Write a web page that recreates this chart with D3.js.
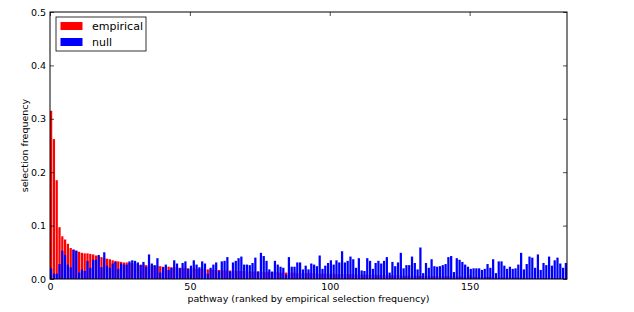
<!DOCTYPE html>
<html>
<head>
<meta charset="utf-8">
<script src="https://cdn.jsdelivr.net/npm/d3@7"></script>
<style>
  body { margin: 0; background: #fff; }
  text { font-family: "DejaVu Sans", sans-serif; }
</style>
</head>
<body>
<svg id="chart" width="634" height="312"></svg>
<script>
// empirical selection frequency, ranked
const empirical = [
  0.315, 0.262, 0.185, 0.097, 0.080, 0.074, 0.066, 0.058, 0.055, 0.053,
  0.051, 0.049, 0.048, 0.048, 0.047, 0.046, 0.044, 0.043, 0.041, 0.039,
  0.038, 0.037, 0.035, 0.034, 0.033, 0.032, 0.031, 0.031, 0.030, 0.029,
  0.028, 0.028, 0.027, 0.027, 0.026, 0.026, 0.025, 0.025, 0.024, 0.024,
  0.023, 0.023, 0.023, 0.022, 0.022, 0.022, 0.021, 0.021, 0.021, 0.020,
  0.020, 0.020, 0.019, 0.019, 0.019, 0.018, 0.018, 0.018, 0.017, 0.017,
  0.017, 0.017, 0.016, 0.016, 0.016, 0.016, 0.015, 0.015, 0.015, 0.015,
  0.015, 0.014, 0.014, 0.014, 0.014, 0.014, 0.013, 0.013, 0.013, 0.013,
  0.013, 0.013, 0.012, 0.012, 0.012, 0.012, 0.012, 0.012, 0.011, 0.011,
  0.011, 0.011, 0.011, 0.011, 0.011, 0.010, 0.010, 0.010, 0.010, 0.010,
  0.010, 0.010, 0.009, 0.009, 0.009, 0.009, 0.009, 0.009, 0.009, 0.008,
  0.008, 0.008, 0.008, 0.008, 0.008, 0.008, 0.008, 0.007, 0.007, 0.007,
  0.007, 0.007, 0.007, 0.007, 0.007, 0.007, 0.006, 0.006, 0.006, 0.006,
  0.006, 0.006, 0.006, 0.006, 0.006, 0.006, 0.005, 0.005, 0.005, 0.005,
  0.005, 0.005, 0.005, 0.005, 0.005, 0.005, 0.005, 0.004, 0.004, 0.004,
  0.004, 0.004, 0.004, 0.004, 0.004, 0.004, 0.004, 0.004, 0.003, 0.003,
  0.003, 0.003, 0.003, 0.003, 0.003, 0.003, 0.003, 0.003, 0.003, 0.003,
  0.002, 0.002, 0.002, 0.002, 0.002, 0.002, 0.002, 0.002, 0.002, 0.002,
  0.002, 0.002, 0.001, 0.001, 0.001
];

// null selection frequency, same ranking
const nullFreq = [
  0.020, 0.010, 0.010, 0.028, 0.053, 0.045, 0.027, 0.022, 0.055, 0.053,
  0.012, 0.018, 0.015, 0.034, 0.021, 0.036, 0.036, 0.045, 0.022, 0.050,
  0.025, 0.021, 0.029, 0.032, 0.019, 0.029, 0.027, 0.027, 0.033, 0.035,
  0.034, 0.031, 0.026, 0.032, 0.023, 0.046, 0.029, 0.026, 0.039, 0.012,
  0.022, 0.027, 0.017, 0.021, 0.035, 0.029, 0.020, 0.030, 0.033, 0.019,
  0.025, 0.035, 0.027, 0.022, 0.033, 0.029, 0.010, 0.021, 0.027, 0.031,
  0.015, 0.033, 0.034, 0.041, 0.014, 0.031, 0.034, 0.039, 0.042, 0.027,
  0.027, 0.026, 0.030, 0.040, 0.014, 0.049, 0.043, 0.034, 0.018, 0.014,
  0.034, 0.027, 0.023, 0.021, 0.008, 0.041, 0.023, 0.023, 0.031, 0.031,
  0.018, 0.025, 0.018, 0.029, 0.027, 0.024, 0.044, 0.019, 0.025, 0.030,
  0.035, 0.027, 0.035, 0.031, 0.052, 0.031, 0.034, 0.042, 0.037, 0.021,
  0.039, 0.016, 0.015, 0.039, 0.034, 0.019, 0.030, 0.034, 0.029, 0.034,
  0.041, 0.012, 0.032, 0.024, 0.031, 0.049, 0.020, 0.026, 0.026, 0.042,
  0.030, 0.018, 0.059, 0.011, 0.030, 0.021, 0.037, 0.024, 0.023, 0.024,
  0.026, 0.028, 0.041, 0.043, 0.013, 0.039, 0.036, 0.032, 0.027, 0.023,
  0.019, 0.020, 0.020, 0.020, 0.017, 0.019, 0.028, 0.021, 0.037, 0.011,
  0.033, 0.033, 0.025, 0.019, 0.023, 0.019, 0.020, 0.027, 0.049, 0.018,
  0.028, 0.042, 0.040, 0.021, 0.046, 0.017, 0.030, 0.026, 0.042, 0.025,
  0.035, 0.040, 0.029, 0.021, 0.030
];

const xTicks = [0, 50, 100, 150];
const yTicks = [0, 0.1, 0.2, 0.3, 0.4, 0.5];
const seriesNames = ['empirical', 'null'];
const seriesColors = ['#ff0000', '#0000ff'];

const margin = {left: 50, right: 67, top: 12, bottom: 33};
const width = 634, height = 312;
const barWidth = 0.8;

const svg = d3.select('svg#chart');

const x = d3.scaleLinear()
  .domain([0, empirical.length - 1 + barWidth])
  .range([margin.left, width - margin.right]);
const y = d3.scaleLinear()
  .domain([0, 0.5])
  .range([height - margin.bottom, margin.top]);

const plot = svg.append('g');

function drawBars(values, color) {
  plot.append('g').selectAll('rect').data(values).enter()
    .append('rect')
    .attr('x', (d, i) => x(i))
    .attr('width', x(barWidth) - x(0))
    .attr('y', (d) => y(d))
    .attr('height', (d) => y(0) - y(d))
    .attr('fill', color);
}

drawBars(empirical, seriesColors[0]);
drawBars(nullFreq, seriesColors[1]);

// axes, ticks pointing inward like old matplotlib
const tickLen = 4;
svg.append('g')
  .attr('transform', `translate(0,${y(0)})`)
  .call(d3.axisBottom(x).tickValues(xTicks).tickSize(-tickLen).tickPadding(4).tickFormat(d3.format('d')))
  .call((g) => g.select('.domain').remove());
svg.append('g')
  .attr('transform', `translate(0,${y(0.5)})`)
  .call(d3.axisTop(x).tickValues(xTicks).tickSize(-tickLen).tickFormat(''))
  .call((g) => g.select('.domain').remove());
svg.append('g')
  .attr('transform', `translate(${x.range()[0]},0)`)
  .call(d3.axisLeft(y).tickValues(yTicks).tickSize(-tickLen).tickPadding(4).tickFormat(d3.format('.1f')))
  .call((g) => g.select('.domain').remove());
svg.append('g')
  .attr('transform', `translate(${x.range()[1]},0)`)
  .call(d3.axisRight(y).tickValues(yTicks).tickSize(-tickLen).tickFormat(''))
  .call((g) => g.select('.domain').remove());

svg.selectAll('.tick text')
  .attr('font-family', '"DejaVu Sans", sans-serif')
  .attr('font-size', 9.5)
  .attr('fill', '#000');
svg.selectAll('.tick line').attr('stroke', '#000').attr('stroke-width', 0.7);

// frame
svg.append('rect')
  .attr('x', x.range()[0])
  .attr('y', y(0.5))
  .attr('width', x.range()[1] - x.range()[0])
  .attr('height', y(0) - y(0.5))
  .attr('fill', 'none')
  .attr('stroke', '#000')
  .attr('stroke-width', 1);

svg.append('text')
  .attr('x', (x.range()[0] + x.range()[1]) / 2)
  .attr('y', 302)
  .attr('text-anchor', 'middle')
  .attr('font-size', 9.5)
  .text('pathway (ranked by empirical selection frequency)');

svg.append('text')
  .attr('transform', `translate(28,${(y(0) + y(0.5)) / 2}) rotate(-90)`)
  .attr('text-anchor', 'middle')
  .attr('font-size', 9.5)
  .text('selection frequency');

// legend
const legend = svg.append('g').attr('transform', 'translate(56,17)');
legend.append('rect')
  .attr('width', 90).attr('height', 34)
  .attr('fill', '#fff').attr('stroke', '#000').attr('stroke-width', 0.8);
seriesNames.forEach((name, i) => {
  legend.append('rect')
    .attr('x', 4.5).attr('y', 5 + i * 16)
    .attr('width', 22).attr('height', 8)
    .attr('fill', seriesColors[i]);
  legend.append('text')
    .attr('x', 36).attr('y', 13 + i * 16)
    .attr('font-size', 11)
    .text(name);
});
</script>
</body>
</html>
